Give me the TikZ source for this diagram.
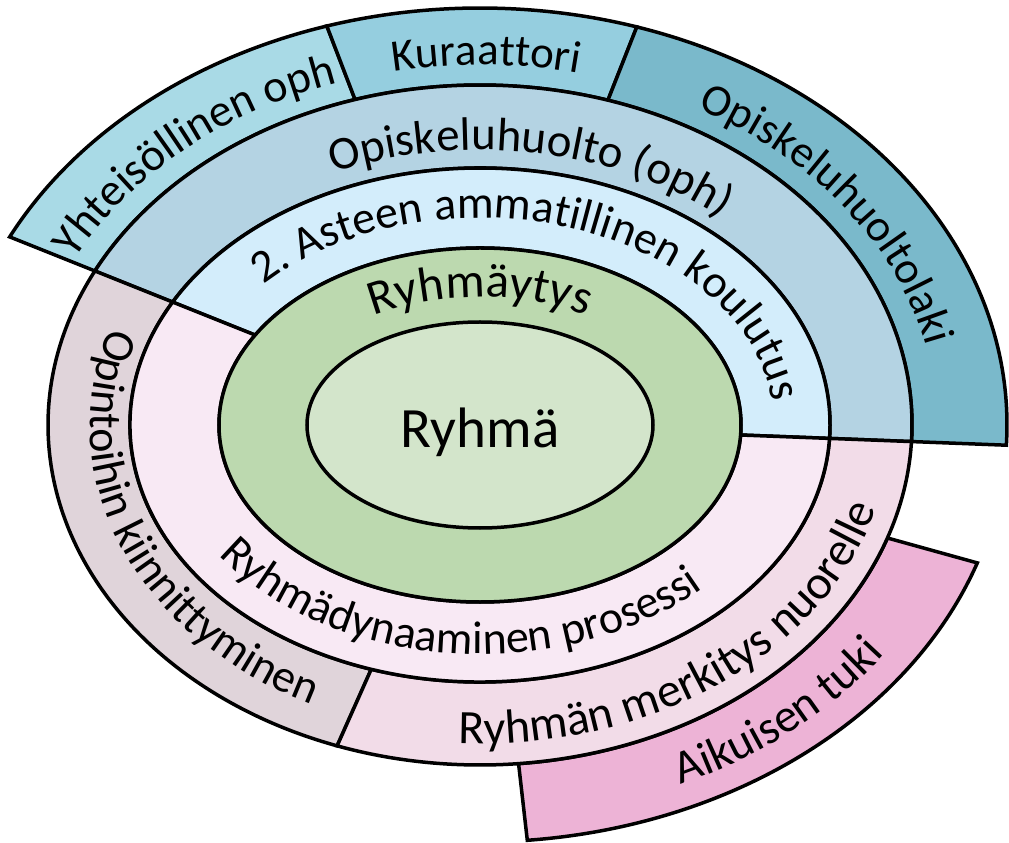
\documentclass[tikz,border=0pt]{standalone}
\usepackage{fontspec}
\setmainfont{Carlito}
\usetikzlibrary{decorations.text}

\definecolor{coreFill}{HTML}{D3E5CB}
\definecolor{greenFill}{HTML}{BCD9AF}
\definecolor{skyFill}{HTML}{D3EDFB}
\definecolor{lilacFill}{HTML}{F8E9F4}
\definecolor{steelFill}{HTML}{B4D3E3}
\definecolor{mauveFill}{HTML}{E0D4DA}
\definecolor{roseFill}{HTML}{F2DCE8}
\definecolor{aquaFill}{HTML}{A9DAE6}
\definecolor{tealFill}{HTML}{95CEDF}
\definecolor{deepFill}{HTML}{7AB9CB}
\definecolor{pinkFill}{HTML}{EDB3D6}

\tikzset{
  ring/.style={draw=black, line width=3.5pt, line join=miter, fill=#1},
}

% parametric angle on the ellipse (a,b) of the point seen from the centre at polar angle theta
\newcommand\paramangle[4]{%
  \pgfmathsetmacro#1{atan2((#2)*sin(#4),(#3)*cos(#4))}%
  \pgfmathsetmacro#1{#1+360*round(((#4)-#1)/360)}%
}

% ring sector between ellipse (a_in,b_in) and (a_out,b_out), polar angles th1 < th2
\newcommand\band[7]{%
  \paramangle\bandOA{#4}{#5}{#6}\paramangle\bandOB{#4}{#5}{#7}%
  \paramangle\bandIA{#2}{#3}{#6}\paramangle\bandIB{#2}{#3}{#7}%
  \path[ring=#1] ({(#4)*cos(\bandOA)},{(#5)*sin(\bandOA)})
    arc[start angle=\bandOA, end angle=\bandOB, x radius=#4pt, y radius=#5pt]
    -- ({(#2)*cos(\bandIB)},{(#3)*sin(\bandIB)})
    arc[start angle=\bandIB, end angle=\bandIA, x radius=#2pt, y radius=#3pt]
    -- cycle;
}

\newcommand\sizefont[1]{\fontsize{#1}{#1}\selectfont}

% text on an elliptic baseline (a,b), centred at polar angle theta;
% dir = 1 runs clockwise over the top, dir = -1 anticlockwise under the bottom
\newcommand\arctext[7][45]{%
  \paramangle\txtC{#2}{#3}{#4}%
  \pgfmathsetmacro\txtS{\txtC+(#6)*(#5)}%
  \pgfmathsetmacro\txtE{\txtC-(#6)*(#5)}%
  \path[decorate, decoration={text along path, text align=center,
        text={|\sizefont{#1}|#7}}]
    ({(#2)*cos(\txtS)},{(#3)*sin(\txtS)})
    arc[start angle=\txtS, end angle=\txtE, x radius=#2pt, y radius=#3pt];
}

\begin{document}
\begin{tikzpicture}[x=1pt, y=1pt]
\useasboundingbox (-480,-418) rectangle (529,425);

% outer band: student welfare
\band{aquaFill}{432}{340}{527}{417}{111}{158.2}
\band{tealFill}{432}{340}{527}{417}{68.5}{111}
\band{deepFill}{432}{340}{527}{417}{-2.2}{68.5}
% outer band: adult support
\band{pinkFill}{432}{340}{527}{417}{276.5}{344.5}

% third ring
\band{steelFill}{350}{257}{432}{340}{-2.2}{158.2}
\band{mauveFill}{350}{257}{432}{340}{158.2}{246}
\band{roseFill}{350}{257}{432}{340}{246}{357.8}

% second ring
\band{skyFill}{261}{177}{350}{257}{-2.2}{158.2}
\band{lilacFill}{261}{177}{350}{257}{158.2}{357.8}

% group-forming ring and core
\path[ring=greenFill] (0,0) ellipse[x radius=261pt, y radius=177pt];
\path[ring=coreFill] (0,0) ellipse[x radius=173pt, y radius=103pt];

\node (ryhma) at (0,-7) {\sizefont{57}Ryhmä};

% labels over the top
\arctext[46]{457}{360}{139}{40}{1}{Yhteisöllinen oph}
\arctext{457}{360}{89}{25}{1}{Kuraattori}
\arctext{457}{360}{28.8}{45}{1}{Opiskeluhuoltolaki}
\arctext[47]{368}{275}{77}{55}{1}{Opiskeluhuolto (oph)}
\arctext[46]{294}{207}{63.5}{85}{1}{2. Asteen ammatillinen koulutus}
\arctext[49]{205}{128}{90}{50}{1}{Ryhmäytys}

% labels under the bottom
\arctext[46]{318}{229}{261.5}{80}{-1}{Ryhmädynaaminen prosessi}
\arctext[46]{390}{310}{197.5}{60}{-1}{Opintoihin kiinnittyminen}
\arctext[48]{411}{319}{315}{55}{-1}{Ryhmän merkitys nuorelle}
\arctext[47]{498}{393}{316.5}{25}{-1}{Aikuisen tuki}
\end{tikzpicture}
\end{document}
